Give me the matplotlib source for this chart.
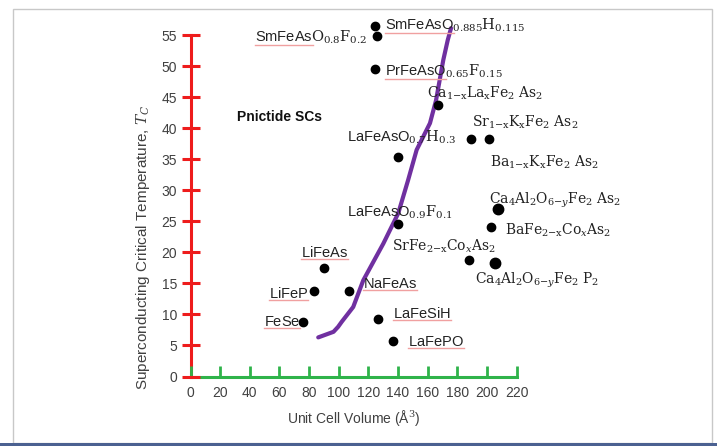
import matplotlib
matplotlib.use("Agg")
import matplotlib.pyplot as plt
from matplotlib.lines import Line2D
from matplotlib.patches import Rectangle
from matplotlib.transforms import IdentityTransform

plt.rcParams['font.family'] = ['Liberation Sans', 'DejaVu Sans']
plt.rcParams['mathtext.fontset'] = 'custom'
plt.rcParams['mathtext.rm'] = 'DejaVu Serif'
plt.rcParams['mathtext.it'] = 'DejaVu Serif:italic'
plt.rcParams['mathtext.bf'] = 'DejaVu Serif:bold'
plt.rcParams['mathtext.sf'] = 'Liberation Sans'

## data
compounds = ["SmFeAsO0.885H0.115", "SmFeAsO0.8F0.2", "PrFeAsO0.65F0.15",
             "Ca1-xLaxFe2As2", "Sr1-xKxFe2As2", "Ba1-xKxFe2As2",
             "LaFeAsO0.7H0.3", "LaFeAsO0.9F0.1", "Ca4Al2O6-yFe2As2",
             "BaFe2-xCoxAs2", "SrFe2-xCoxAs2", "Ca4Al2O6-yFe2P2",
             "LiFeAs", "LiFeP", "NaFeAs", "LaFeSiH", "FeSe", "LaFePO"]
volume = [124.5, 125.6, 124.5, 167.2, 189.3, 201.4, 139.8, 140.2, 207.7,
          202.8, 187.9, 205.5, 90.3, 83.1, 107.2, 126.7, 76.1, 136.8]
tc = [56.4, 54.9, 49.5, 43.8, 38.2, 38.2, 35.3, 24.5, 26.9,
      24.0, 18.8, 18.3, 17.5, 13.8, 13.8, 9.3, 8.7, 5.8]

# hand drawn trend line
trend_v = [86.2, 96.5, 99.6, 102.0, 109.8, 116.6, 130.1, 140.2, 146.8,
           152.6, 161.6, 165.7, 170.6, 173.6, 175.8]
trend_tc = [6.3, 7.2, 8.0, 8.8, 11.2, 15.5, 21.4, 26.3, 31.6,
            36.5, 40.8, 44.5, 51.0, 54.2, 56.1]

x_ticks = list(range(0, 221, 20))
y_ticks = list(range(0, 56, 5))

## label text: (sans part, serif mathtext part, underline?)
label_parts = {
    "SmFeAsO0.885H0.115": ("SmFeAsO", r"_{0.885}\mathrm{H}_{0.115}", True),
    "SmFeAsO0.8F0.2": ("SmFeAs", r"\mathrm{O}_{0.8}\mathrm{F}_{0.2}", True),
    "PrFeAsO0.65F0.15": ("PrFeAsO", r"_{0.65}\mathrm{F}_{0.15}", True),
    "Ca1-xLaxFe2As2": ("", r"\mathrm{Ca}_{1{-}\mathrm{x}}\mathrm{La}_{\mathrm{x}}\mathrm{Fe}_{2}\ \mathrm{As}_{2}", False),
    "Sr1-xKxFe2As2": ("", r"\mathrm{Sr}_{1{-}\mathrm{x}}\mathrm{K}_{\mathrm{x}}\mathrm{Fe}_{2}\ \mathrm{As}_{2}", False),
    "Ba1-xKxFe2As2": ("", r"\mathrm{Ba}_{1{-}\mathrm{x}}\mathrm{K}_{\mathrm{x}}\mathrm{Fe}_{2}\ \mathrm{As}_{2}", False),
    "LaFeAsO0.7H0.3": ("LaFeAsO", r"_{0.7}\mathrm{H}_{0.3}", False),
    "LaFeAsO0.9F0.1": ("LaFeAsO", r"_{0.9}\mathrm{F}_{0.1}", False),
    "Ca4Al2O6-yFe2As2": ("", r"\mathrm{Ca}_{4}\mathrm{Al}_{2}\mathrm{O}_{6{-}y}\mathrm{Fe}_{2}\ \mathrm{As}_{2}", False),
    "BaFe2-xCoxAs2": ("", r"\mathrm{BaFe}_{2{-}\mathrm{x}}\mathrm{Co}_{x}\mathrm{As}_{2}", False),
    "SrFe2-xCoxAs2": ("", r"\mathrm{SrFe}_{2{-}\mathrm{x}}\mathrm{Co}_{x}\mathrm{As}_{2}", False),
    "Ca4Al2O6-yFe2P2": ("", r"\mathrm{Ca}_{4}\mathrm{Al}_{2}\mathrm{O}_{6{-}y}\mathrm{Fe}_{2}\ \mathrm{P}_{2}", False),
    "LiFeAs": ("LiFeAs", "", True),
    "LiFeP": ("LiFeP", "", True),
    "NaFeAs": ("NaFeAs", "", True),
    "LaFeSiH": ("LaFeSiH", "", True),
    "FeSe": ("FeSe", "", True),
    "LaFePO": ("LaFePO", "", True),
}
# where each label sits (data coords) and its alignment
label_x = [131.2, 119.3, 131.2, 159.4, 190.2, 202.1, 105.8, 105.8, 201.6,
           212.2, 136.2, 192.0, 74.6, 53.0, 116.2, 136.8, 49.6, 147.0]
label_y = [56.6, 54.7, 49.1, 45.6, 41.0, 34.5, 38.5, 26.5, 28.3,
           23.5, 20.9, 15.5, 19.9, 13.3, 14.9, 10.2, 8.7, 5.5]
label_ha = ["left", "right", "left", "left", "left", "left", "left", "left", "left",
            "left", "left", "left", "left", "left", "left", "left", "left", "left"]
big_dot = ["Ca4Al2O6-yFe2As2", "Ca4Al2O6-yFe2P2"]

red = "#ee1c1c"
green = "#2fb34a"
purple = "#7030a0"

fig = plt.figure(figsize=(7.17, 4.46), dpi=100)
ax = fig.add_axes([0.2657, 0.1558, 0.4547, 0.7657])

ax.plot(trend_v, trend_tc, color=purple, lw=3, solid_capstyle="round",
        solid_joinstyle="round", clip_on=False, zorder=2)

for name, v, t in zip(compounds, volume, tc):
    ms = 7.5 if name in big_dot else 6
    ax.plot(v, t, "o", color="black", ms=ms, clip_on=False, zorder=3)

ax.set_xlim(0, 220)
ax.set_ylim(0, 55)
ax.set_xticks(x_ticks)
ax.set_yticks(y_ticks)

for s in ["top", "right"]:
    ax.spines[s].set_visible(False)
ax.spines["left"].set_color(red)
ax.spines["left"].set_linewidth(2.2)
ax.spines["bottom"].set_color(green)
ax.spines["bottom"].set_linewidth(2.2)
ax.spines["left"].set_zorder(1)
ax.spines["bottom"].set_zorder(1.1)

ax.tick_params(axis="y", direction="inout", length=13.5, width=2.2, color=red,
               labelsize=10, labelcolor="#404040", pad=3)
ax.tick_params(axis="x", direction="in", length=8, width=2, color=green,
               labelsize=10, labelcolor="#404040", pad=7)

ax.set_xlabel("Unit Cell Volume (Å$^{3}$)", fontsize=10, color="#404040", labelpad=6)
ax.set_ylabel("Superconducting Critical Temperature, $T_C$", fontsize=11, color="#404040")
ax.yaxis.set_label_coords(-0.118, 0.378)

ax.text(31.7, 41.8, "Pnictide SCs", fontsize=10, fontweight="bold",
        color="#111111", va="center", ha="left")

texts = []
for name, lx, ly, ha in zip(compounds, label_x, label_y, label_ha):
    sans, serif, under = label_parts[name]
    s = ""
    if sans:
        s += r"\mathsf{" + sans + "}"
    s += serif
    fs = 10.5 if sans else 10
    txt = ax.text(lx, ly, "$" + s + "$", fontsize=fs, color="#222222",
                  ha=ha, va="center", zorder=4)
    texts.append((txt, sans, under))

# red spell-check style underlines under the sans part
fig.canvas.draw()
r = fig.canvas.get_renderer()
for txt, sans, under in texts:
    if not under:
        continue
    bb = txt.get_window_extent(r)
    tmp = fig.text(0, 0, r"$\mathsf{" + sans + "}$", fontsize=10.5)
    w = tmp.get_window_extent(r).width
    tmp.remove()
    y0 = bb.y0 + 1
    fig.add_artist(Line2D([bb.x0, bb.x0 + w], [y0, y0], transform=IdentityTransform(),
                          color="#f0a0a0", lw=1.0))

# frame round the picture
fig.add_artist(Rectangle((0.0177, 0.0067), 0.975, 0.972, transform=fig.transFigure,
                         fill=False, edgecolor="#c8c8c8", lw=1))
fig.add_artist(Rectangle((0.0, 0.0), 1.0, 0.0067, transform=fig.transFigure,
                         facecolor="#4b6191", edgecolor="none"))

fig.savefig("out.png", dpi=100)
